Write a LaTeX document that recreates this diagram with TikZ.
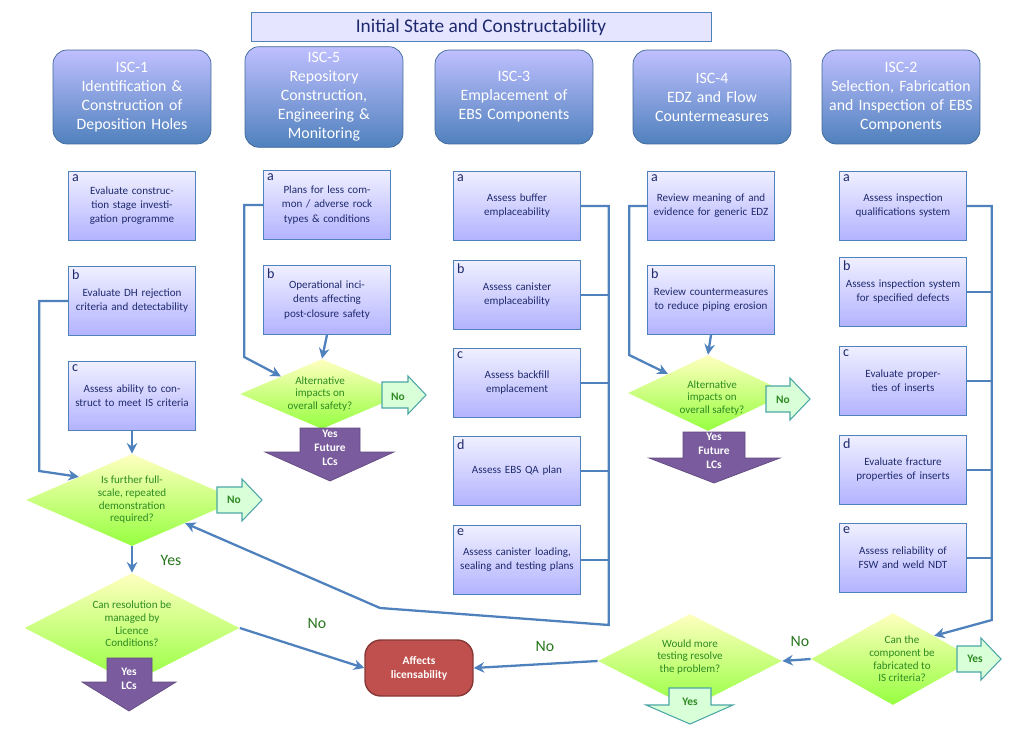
\documentclass[tikz,border=0pt]{standalone}
\usepackage{fontspec}
\setmainfont{Carlito}
\usetikzlibrary{arrows.meta,shapes.geometric}
\definecolor{lineblue}{HTML}{4F81BD}
\definecolor{navy}{HTML}{1F2A6E}
\definecolor{dgreen}{HTML}{2E8B22}
\definecolor{purp}{HTML}{7A5C9E}
\definecolor{licred}{HTML}{C0504D}
\tikzset{
  hdr/.style={rounded corners=8pt, draw=lineblue!80!black, top color=blue!25!white,
    bottom color=lineblue, text=white, align=center, minimum width=3.16cm,
    minimum height=1.88cm, text width=2.9cm, font=\fontsize{9}{10.8}\selectfont},
  box/.style={draw=lineblue, top color=blue!6, bottom color=blue!30, text=navy,
    align=center, minimum width=2.54cm, minimum height=1.38cm, text width=2.3cm,
    font=\fontsize{6.3}{8}\selectfont},
  ltr/.style={anchor=north west, inner sep=2pt, text=navy, font=\fontsize{8}{9}\selectfont},
  dia/.style={diamond, inner sep=0pt, draw=none, top color=yellow!25!white,
    bottom color=green!55!yellow!75!white},
  dtxt/.style={text=dgreen, align=center, font=\fontsize{6.3}{7.2}\selectfont},
  conn/.style={draw=lineblue, line width=1.3pt, -{Stealth[length=6pt,width=6pt]}},
  link/.style={draw=lineblue, line width=1.3pt},
  garrow/.style={draw=teal!70, fill=green!15, line width=0.6pt},
  parrow/.style={fill=purp, draw=purp!80!black},
  lbl/.style={text=dgreen!85!black, font=\fontsize{9}{10}\selectfont},
}
\begin{document}
\begin{tikzpicture}[x=0.02cm, y=-0.02cm]
  \useasboundingbox (0,0) rectangle (1024,733);
  % title and column heads
  \node[draw=lineblue, fill=blue!10, minimum width=9.2cm, minimum height=0.58cm,
    text=navy, font=\fontsize{11}{12}\selectfont] (title) at (481,27) {Initial State and Constructability};
  \node[hdr] (isc1) at (132,97) {ISC-1\\Identification \&\\Construction of\\Deposition Holes};
  \node[hdr] (isc5) at (324,97) {ISC-5\\Repository\\Construction,\\Engineering \&\\Monitoring};
  \node[hdr] (isc3) at (514,97) {ISC-3\\Emplacement of\\EBS Components};
  \node[hdr] (isc4) at (712,97) {ISC-4\\EDZ and Flow\\Countermeasures};
  \node[hdr] (isc2) at (901,97) {ISC-2\\Selection, Fabrication\\and Inspection of EBS\\Components};
  % boxes
  \node[box, label={[ltr]north west:a}] (c1a) at (132,206) {Evaluate construction stage investigation programme};
  \node[box, label={[ltr]north west:b}] (c1b) at (132,301) {Evaluate DH rejection criteria and detectability};
  \node[box, label={[ltr]north west:c}] (c1c) at (132,396) {Assess ability to construct to meet IS criteria};
  \node[box, label={[ltr]north west:a}] (c5a) at (327,205) {Plans for less common / adverse rock types \& conditions};
  \node[box, label={[ltr]north west:b}] (c5b) at (327,300) {Operational incidents affecting post-closure safety};
  \node[box, label={[ltr]north west:a}] (c3a) at (517,206) {Assess buffer emplaceability};
  \node[box, label={[ltr]north west:b}] (c3b) at (517,295) {Assess canister emplaceability};
  \node[box, label={[ltr]north west:c}] (c3c) at (517,383) {Assess backfill emplacement};
  \node[box, label={[ltr]north west:d}] (c3d) at (517,471) {Assess EBS QA plan};
  \node[box, label={[ltr]north west:e}] (c3e) at (517,560) {Assess canister loading, sealing and testing plans};
  \node[box, label={[ltr]north west:a}] (c4a) at (711,206) {Review meaning of and evidence for generic EDZ};
  \node[box, label={[ltr]north west:b}] (c4b) at (711,300) {Review countermeasures to reduce piping erosion};
  \node[box, label={[ltr]north west:a}] (c2a) at (903,206) {Assess inspection qualifications system};
  \node[box, label={[ltr]north west:b}] (c2b) at (903,292) {Assess inspection system for specified defects};
  \node[box, label={[ltr]north west:c}] (c2c) at (903,381) {Evaluate properties of inserts};
  \node[box, label={[ltr]north west:d}] (c2d) at (903,470) {Evaluate fracture properties of inserts};
  \node[box, label={[ltr]north west:e}] (c2e) at (903,558) {Assess reliability of FSW and weld NDT};
  % decisions
  \node[dia, minimum width=4.24cm, minimum height=1.84cm] (dFull) at (132,500) {};
  \node[dia, minimum width=4.3cm, minimum height=2.2cm] (dRes) at (132,628) {};
  \node[dia, minimum width=3.28cm, minimum height=1.4cm] (dAlt5) at (322,394) {};
  \node[dia, minimum width=3.2cm, minimum height=1.52cm] (dAlt4) at (708,393) {};
  \node[dia, minimum width=3.68cm, minimum height=1.88cm] (dMore) at (690,661) {};
  \node[dia, minimum width=3.28cm, minimum height=1.84cm] (dComp) at (893,659) {};
  % outcome arrows
  \draw[garrow] (217,487) -- (242,487) -- (242,479) -- (262,500) -- (242,521) -- (242,513) -- (217,513) -- cycle;
  \draw[garrow] (382,382) -- (408,382) -- (408,376) -- (426,395) -- (408,414) -- (408,408) -- (382,408) -- cycle;
  \draw[garrow] (766,386) -- (790,386) -- (790,378) -- (810,399) -- (790,420) -- (790,412) -- (766,412) -- cycle;
  \draw[garrow] (957,646) -- (981,646) -- (981,638) -- (1001,659) -- (981,680) -- (981,672) -- (957,672) -- cycle;
  \draw[garrow] (669,688) -- (711,688) -- (711,705) -- (733,705) -- (690,724) -- (646,705) -- (669,705) -- cycle;
  \draw[parrow] (300,428) -- (360,428) -- (360,452) -- (394,452) -- (330,481) -- (265,452) -- (300,452) -- cycle;
  \draw[parrow] (683,432) -- (745,432) -- (745,458) -- (780,458) -- (714,483) -- (649,458) -- (683,458) -- cycle;
  \draw[parrow] (107,658) -- (152,658) -- (152,682) -- (176,682) -- (129,711) -- (82,682) -- (107,682) -- cycle;
  \node[dtxt] (tFull) at (132,500) {Is further full-\\scale, repeated\\demonstration\\required?};
  \node[dtxt] (tRes) at (132,624) {Can resolution be\\managed by\\Licence\\Conditions?};
  \node[dtxt] (tAlt5) at (320,394) {Alternative\\impacts on\\overall safety?};
  \node[dtxt] (tAlt4) at (712,398) {Alternative\\impacts on\\overall safety?};
  \node[dtxt] (tMore) at (690,657) {Would more\\testing resolve\\the problem?};
  \node[dtxt] (tComp) at (902,659) {Can the\\component be\\fabricated to\\IS criteria?};
  \node[dtxt, font=\bfseries\fontsize{6.5}{7}\selectfont] (no1) at (234,500) {No};
  \node[dtxt, font=\bfseries\fontsize{6.5}{7}\selectfont] (no5) at (398,397) {No};
  \node[dtxt, font=\bfseries\fontsize{6.5}{7}\selectfont] (no4) at (783,400) {No};
  \node[dtxt, font=\bfseries\fontsize{6.5}{7}\selectfont] (yesC) at (975,659) {Yes};
  \node[dtxt, font=\bfseries\fontsize{6.5}{7}\selectfont] (yesM) at (690,702) {Yes};
  \node[text=white, align=center, font=\bfseries\fontsize{6.5}{8}\selectfont] (yes5) at (330,448) {Yes\\Future\\LCs};
  \node[text=white, align=center, font=\bfseries\fontsize{6.5}{8}\selectfont] (yes4) at (714,451) {Yes\\Future\\LCs};
  \node[text=white, align=center, font=\bfseries\fontsize{6.5}{8}\selectfont] (yesR) at (129,679) {Yes\\LCs};
  \node[rounded corners=9pt, draw=licred!70!black, line width=0.8pt, fill=licred, text=white,
    align=center, minimum width=2.16cm, minimum height=1.12cm,
    font=\bfseries\fontsize{6.5}{8}\selectfont] (lic) at (419,668) {Affects\\licensability};
  % connectors
  \draw[conn] (c1b.west) -- ++(-29,0) -- ++(0,170) -- (dFull.north west);
  \draw[conn] (c1c.south) -- (dFull.north);
  \draw[conn] (dFull.south) -- (dRes.north);
  \draw[conn] (dRes.east) -- (lic.west);
  \draw[conn] (c5a.west) -- ++(-19,0) -- ++(0,152) -- (dAlt5.north west);
  \draw[conn] (c5b.south) -- (dAlt5.north);
  \draw[conn] (c4a.west) -- ++(-18,0) -- ++(0,149) -- (dAlt4.north west);
  \draw[conn] (c4b.south) -- (dAlt4.north);
  \draw[conn] (c3a.east) -- ++(28,0) -- ++(0,419) -- (380,608) -- (dFull.south east);
  \foreach \n in {c3b, c3c, c3d, c3e} \draw[link] (\n.east) -- ++(28,0);
  \draw[conn] (c2a.east) -- ++(25,0) -- ++(0,414) -- (dComp.north east);
  \foreach \n in {c2b, c2c, c2d, c2e} \draw[link] (\n.east) -- ++(25,0);
  \draw[conn] (dComp.west) -- (dMore.east);
  \draw[conn] (dMore.west) -- (lic.east);
  % edge labels
  \node[lbl] (lYes) at (171,560) {Yes};
  \node[lbl] (lNo1) at (317,623) {No};
  \node[lbl] (lNo2) at (545,646) {No};
  \node[lbl] (lNo3) at (800,641) {No};
\end{tikzpicture}
\end{document}
